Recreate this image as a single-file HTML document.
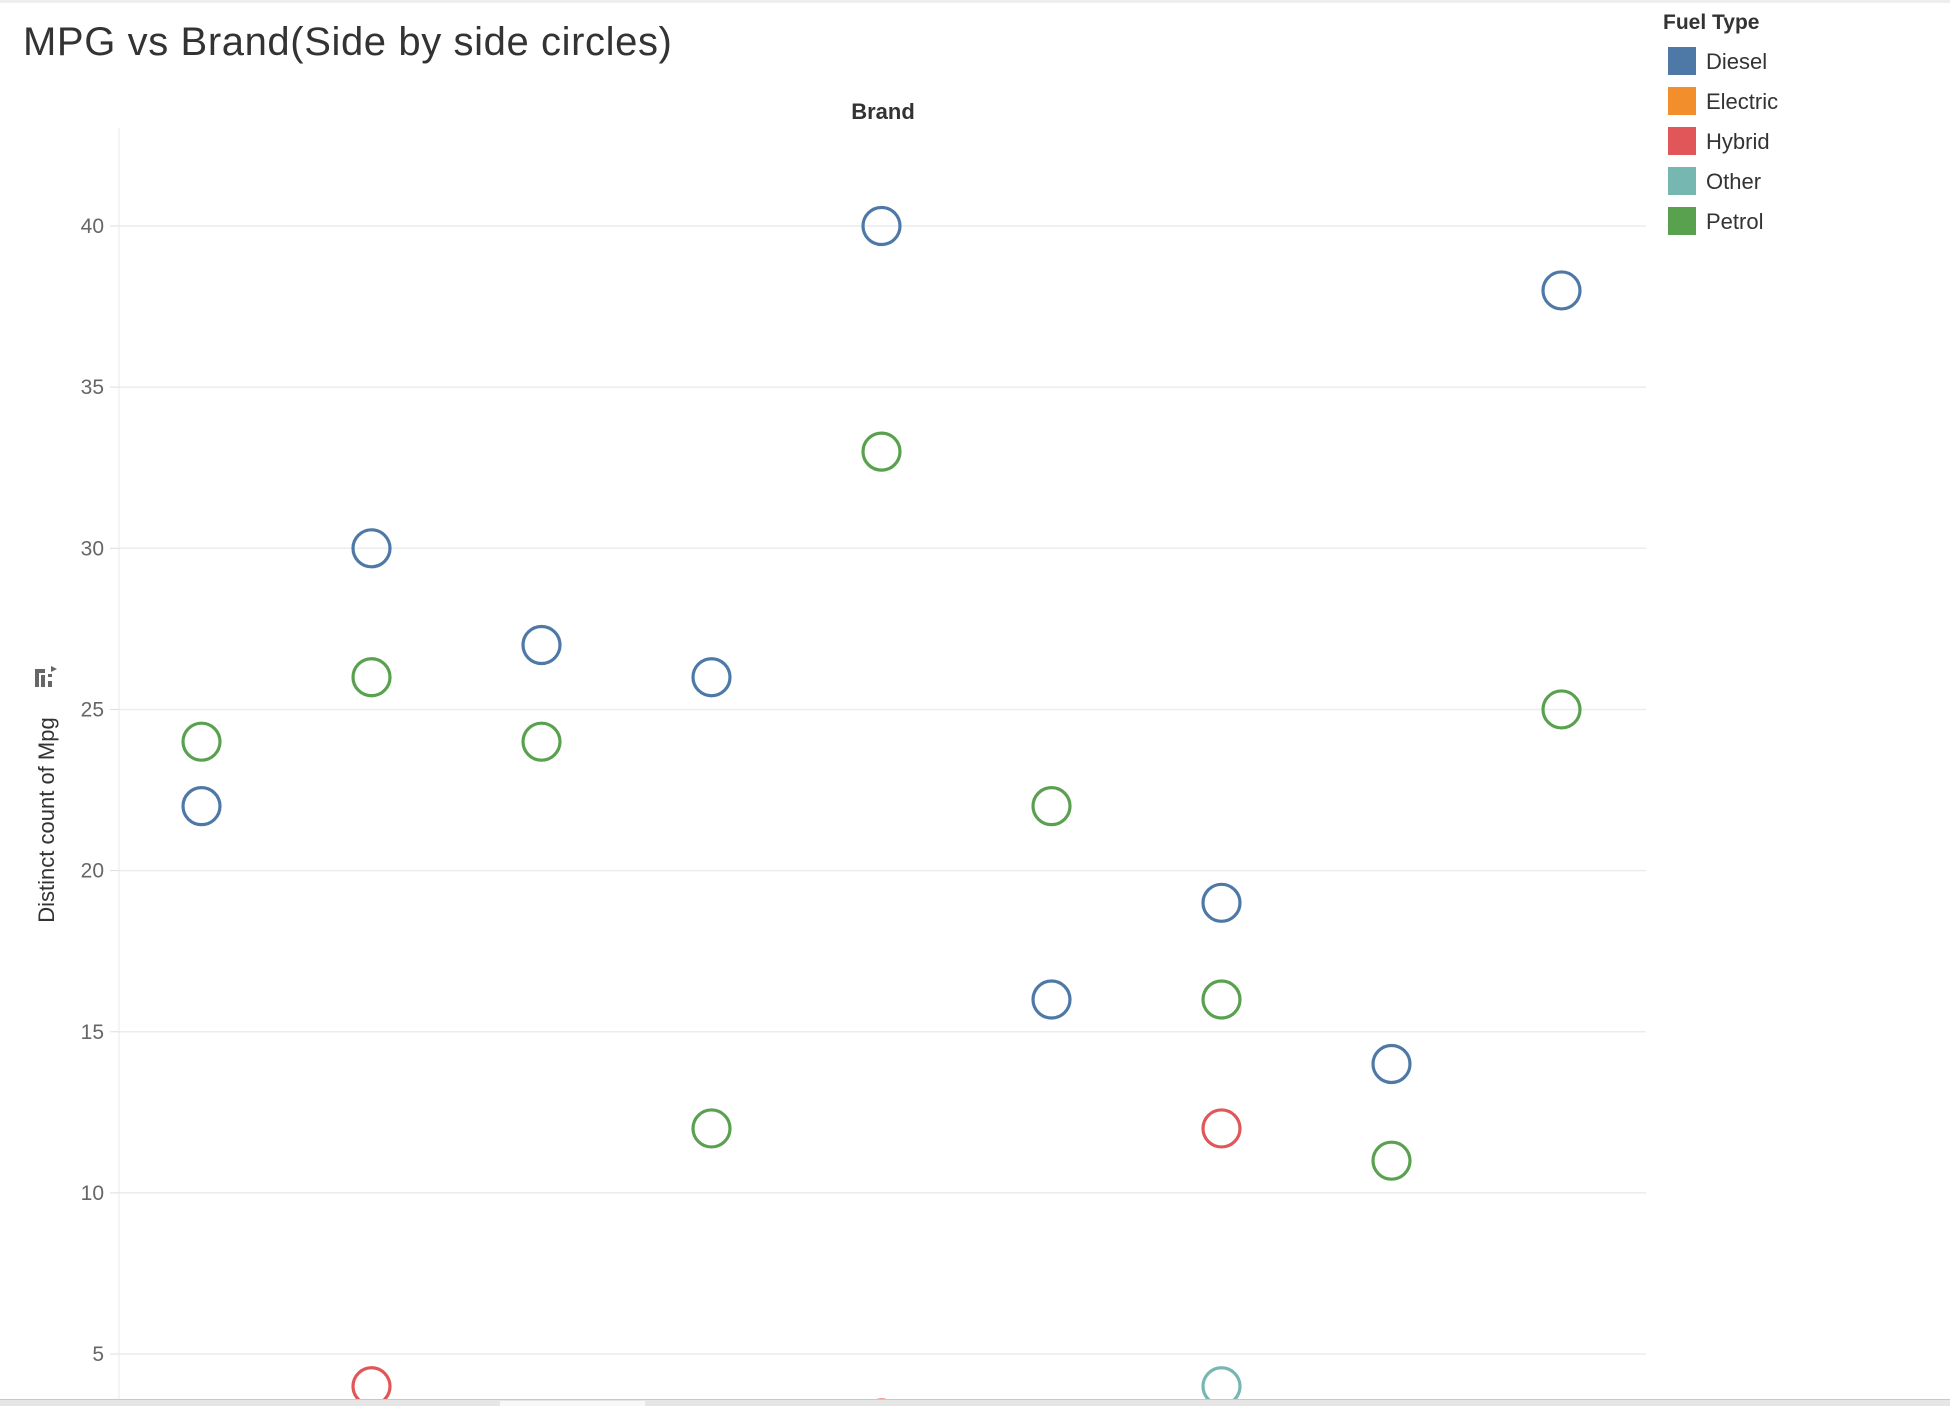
<!DOCTYPE html>
<html><head><meta charset="utf-8"><style>
body{margin:0;background:#fff;font-family:"Liberation Sans","DejaVu Sans",sans-serif}
svg{display:block}
</style></head><body>
<svg id="chart" width="1950" height="1406" viewBox="0 0 1950 1406" xmlns="http://www.w3.org/2000/svg">
<rect x="0" y="0" width="1950" height="3" fill="#eeeeee"/>
<text x="23" y="55" font-size="40" fill="#333" letter-spacing="0.6">MPG vs Brand(Side by side circles)</text>
<text x="883" y="119" font-size="22" font-weight="bold" fill="#333" text-anchor="middle">Brand</text>
<line x1="119" y1="128" x2="119" y2="1400" stroke="#f0f0f0" stroke-width="1.5"/>
<g id="grid"></g>
<g id="yticks"></g>
<text transform="translate(54,820) rotate(-90)" font-size="22" fill="#333" text-anchor="middle">Distinct count of Mpg</text>
<g fill="#666"><rect x="35" y="669" width="10" height="4"/><rect x="35" y="669" width="4" height="18"/><rect x="41" y="675" width="4" height="12"/><rect x="48" y="681" width="4" height="6"/><rect x="48" y="674" width="4" height="3"/><path d="M51 666 l6 3 l-6 3z"/></g>
<g id="marks"></g>
<g id="legend">
<text x="1663" y="29" font-size="21" font-weight="bold" fill="#333">Fuel Type</text>
</g>
<rect x="0" y="1399" width="1950" height="7" fill="#e6e6e6"/>
<line x1="0" y1="1399.5" x2="1950" y2="1399.5" stroke="#c8c8c8"/>
<rect x="500" y="1401" width="145" height="5" fill="#f8f8f8"/>
</svg>
<script>
const NS="http://www.w3.org/2000/svg";
const brands=[0,1,2,3,4,5,6,7,8];
const fuelTypes=["Diesel","Electric","Hybrid","Other","Petrol"];
const fuelColors=["#4e79a7","#f28e2b","#e15759","#76b7b2","#59a14f"];
const dieselValues=[22,30,27,26,40,16,19,14,38];
const petrolValues=[24,26,24,12,33,22,16,11,25];
const hybridValues=[null,4,null,null,3,null,12,null,null];
const otherValues=[null,null,null,null,null,null,4,null,null];
const yTicks=[5,10,15,20,25,30,35,40];

function yScale(v){return 226+(40-v)*32.23;}
function xScale(i){return 201.5+i*170;}
function mk(tag,attrs){const e=document.createElementNS(NS,tag);for(const k in attrs)e.setAttribute(k,attrs[k]);return e;}

const grid=document.getElementById('grid'),yt=document.getElementById('yticks');
yTicks.forEach(t=>{
  const y=yScale(t);
  const l=mk('line',{x1:119,x2:1646,y1:y,y2:y,stroke:'#ececec','stroke-width':1.5});
  
  
  grid.appendChild(l);
  const tk=mk('line',{x1:110,x2:119,y1:y,y2:y,stroke:'#ddd'});
  
  
  grid.appendChild(tk);
  const tx=mk('text',{x:104,y:y+7,'font-size':21,fill:'#666','text-anchor':'end'});
  tx.textContent=t;
  
  
  yt.appendChild(tx);
});

const marks=document.getElementById('marks');
const series=[["diesel",dieselValues,0],["hybrid",hybridValues,2],["other",otherValues,3],["petrol",petrolValues,4]];
series.forEach(([name,vals,ci])=>{
  vals.forEach((v,i)=>{
    if(v==null)return;
    const c=mk('circle',{cx:xScale(brands[i]),cy:yScale(v),r:18.5,fill:'none',stroke:fuelColors[ci],'stroke-width':3.2});
    
    
    marks.appendChild(c);
  });
});

const lg=document.getElementById('legend');
fuelTypes.forEach((f,i)=>{
  const y=47+i*40;
  const r=mk('rect',{x:1668,y:y,width:28,height:28,fill:fuelColors[i]});
  
  
  lg.appendChild(r);
  const t=mk('text',{x:1706,y:y+22,'font-size':22,fill:'#333'});
  t.textContent=f;
  
  
  lg.appendChild(t);
});
</script>
</body></html>
